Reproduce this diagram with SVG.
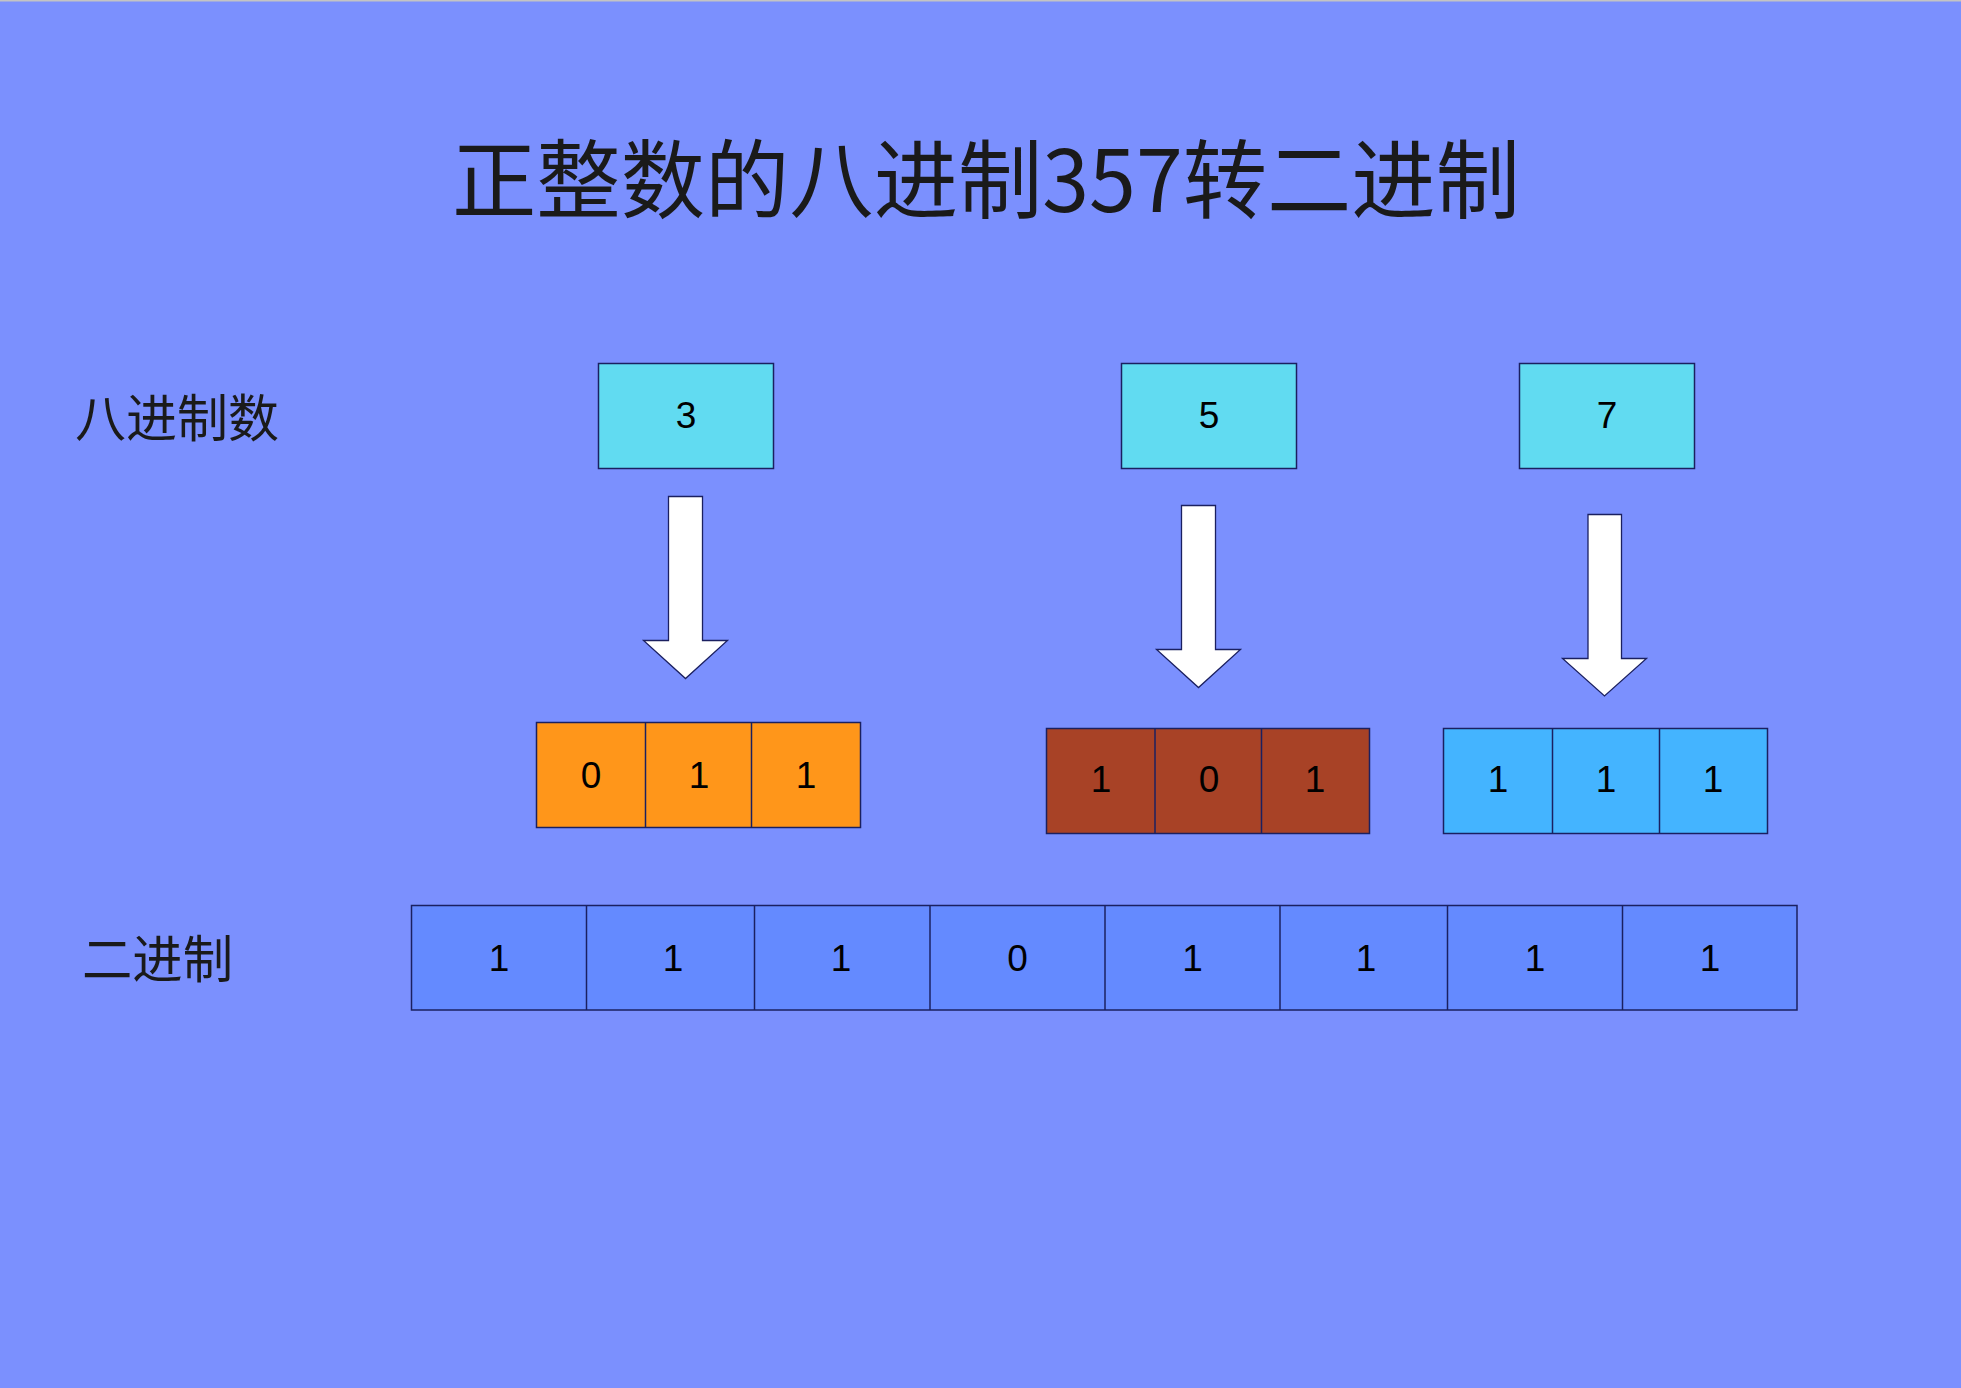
<svg xmlns="http://www.w3.org/2000/svg" width="1961" height="1388" viewBox="0 0 1961 1388">
<style>
.box{stroke:#1b2060;stroke-width:1.5}
.cyan{fill:#61dbf1}
.orange{fill:#ff961a}
.brown{fill:#a84226}
.lblue{fill:#44b4ff}
.bblue{fill:#648aff}
.div{stroke:#1b2060;stroke-width:1.5}
.num{font-family:"Liberation Sans",Arial,sans-serif;font-size:37px;fill:#000;text-anchor:middle}
.cjk{font-family:"Noto Sans CJK SC","Noto Sans",sans-serif;fill:#1a1a1a}
.arrow{fill:#fff;stroke:#1b2060;stroke-width:1.3}
</style>
<rect x="0" y="0" width="1961" height="1388" fill="#7b90fe"/>
<rect x="0" y="0" width="1961" height="1.5" fill="#c4c4c4"/>
<g id="title">
<text class="cjk" x="452" y="212" font-size="86" textLength="1068" lengthAdjust="spacingAndGlyphs">正整数的八进制357转二进制</text>
</g>
<g id="label-octal">
<text class="cjk" x="75" y="437" font-size="51" textLength="204" lengthAdjust="spacingAndGlyphs">八进制数</text>
</g>
<g id="label-binary">
<text class="cjk" x="82" y="978" font-size="51" textLength="151" lengthAdjust="spacingAndGlyphs">二进制</text>
</g>
<g id="oct3">
<rect class="box cyan" x="598.5" y="363.5" width="175" height="105"/>
<text class="num" x="686" y="427.5">3</text>
</g>
<g id="oct5">
<rect class="box cyan" x="1121.5" y="363.5" width="175" height="105"/>
<text class="num" x="1209" y="427.5">5</text>
</g>
<g id="oct7">
<rect class="box cyan" x="1519.5" y="363.5" width="175" height="105"/>
<text class="num" x="1607" y="427.5">7</text>
</g>
<g id="connectors">
<polygon class="arrow" points="668.5,496.5 702.5,496.5 702.5,640.5 727.5,640.5 685.5,678.5 643.5,640.5 668.5,640.5"/>
<polygon class="arrow" points="1181.5,505.5 1215.5,505.5 1215.5,649.5 1240.5,649.5 1198.5,687.5 1156.5,649.5 1181.5,649.5"/>
<polygon class="arrow" points="1588,514.5 1621.5,514.5 1621.5,658.5 1646.5,658.5 1604.5,696 1562.5,658.5 1588,658.5"/>
</g>
<g id="bin3">
<rect class="box orange" x="536.5" y="722.5" width="324" height="105"/>
<line class="div" x1="645.5" y1="722.5" x2="645.5" y2="827.5"/>
<line class="div" x1="751.5" y1="722.5" x2="751.5" y2="827.5"/>
<text class="num" x="591" y="787.5">0</text>
<text class="num" x="699" y="787.5">1</text>
<text class="num" x="806" y="787.5">1</text>
</g>
<g id="bin5">
<rect class="box brown" x="1046.5" y="728.5" width="323" height="105"/>
<line class="div" x1="1155" y1="728.5" x2="1155" y2="833.5"/>
<line class="div" x1="1261.5" y1="728.5" x2="1261.5" y2="833.5"/>
<text class="num" x="1101" y="792">1</text>
<text class="num" x="1209" y="792">0</text>
<text class="num" x="1315" y="792">1</text>
</g>
<g id="bin7">
<rect class="box lblue" x="1443.5" y="728.5" width="324" height="105"/>
<line class="div" x1="1552.5" y1="728.5" x2="1552.5" y2="833.5"/>
<line class="div" x1="1659.5" y1="728.5" x2="1659.5" y2="833.5"/>
<text class="num" x="1498" y="792">1</text>
<text class="num" x="1606" y="792">1</text>
<text class="num" x="1713" y="792">1</text>
</g>
<g id="binary-row">
<rect class="box bblue" x="411.5" y="905.5" width="1385.5" height="104.5"/>
<line class="div" x1="586.5" y1="905.5" x2="586.5" y2="1010"/>
<line class="div" x1="754.5" y1="905.5" x2="754.5" y2="1010"/>
<line class="div" x1="930" y1="905.5" x2="930" y2="1010"/>
<line class="div" x1="1105" y1="905.5" x2="1105" y2="1010"/>
<line class="div" x1="1280" y1="905.5" x2="1280" y2="1010"/>
<line class="div" x1="1447.5" y1="905.5" x2="1447.5" y2="1010"/>
<line class="div" x1="1622.5" y1="905.5" x2="1622.5" y2="1010"/>
<text class="num" x="499" y="970.5">1</text>
<text class="num" x="673" y="970.5">1</text>
<text class="num" x="841" y="970.5">1</text>
<text class="num" x="1017.5" y="970.5">0</text>
<text class="num" x="1192.5" y="970.5">1</text>
<text class="num" x="1366" y="970.5">1</text>
<text class="num" x="1535" y="970.5">1</text>
<text class="num" x="1710" y="970.5">1</text>
</g>
</svg>
